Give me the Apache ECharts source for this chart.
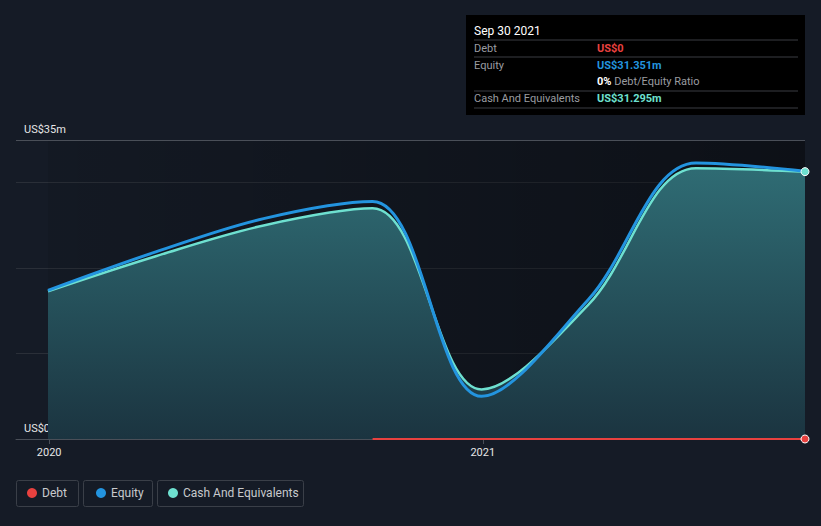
<!DOCTYPE html>
<html>
<head>
<meta charset="utf-8">
<script src="https://cdn.jsdelivr.net/npm/echarts@6/dist/echarts.min.js"></script>
<style>
html,body{margin:0;padding:0;background:#151b26;}
#c{width:821px;height:526px;}
</style>
</head>
<body>
<div id="c"></div>
<script>
// Data (US$ millions)
const dates = ['2019-12-31','2020-03-31','2020-06-30','2020-09-30','2020-12-31','2021-03-31','2021-06-30','2021-09-30'];
const equity = [17.4, 21.9, 25.8, 27.8, 5.0, 16.3, 32.3, 31.351];
const cash = [17.3, 21.4, 25.0, 27.0, 5.8, 15.7, 31.7, 31.295];
const debtDates = ['2020-09-30','2020-12-31','2021-03-31','2021-06-30','2021-09-30'];
const debt = [0, 0, 0, 0, 0];
const xTickLabels = ['2020-01-01','2021-01-01'];
const yTickLabels = [0, 35];

const tipRows = [
  {label:'Debt', value:'US$0', color:'#e8413f'},
  {label:'Equity', value:'US$31.351m', color:'#2394df'},
  {label:'', value:'0%', extra:' Debt/Equity Ratio', color:'#ffffff'},
  {label:'Cash And Equivalents', value:'US$31.295m', color:'#6ee0d0'}
];

const chart = echarts.init(document.getElementById('c'), null, {renderer:'svg'});
const FONT = 'Roboto, "Noto Sans", sans-serif';

const ts = s => new Date(s + 'T00:00:00Z').getTime();

const graphics = [];
// tooltip box
graphics.push({type:'rect', shape:{x:466,y:15,width:339,height:100}, style:{fill:'#000000'}, z:100});
graphics.push({type:'text', x:474, y:31, style:{text:'Sep 30 2021', fill:'#ffffff', font:'12px ' + FONT, verticalAlign:'middle'}, z:101});
const lineYs = [40, 57, 91, 108];
lineYs.forEach(y => graphics.push({type:'line', shape:{x1:474,y1:y,x2:798,y2:y}, style:{stroke:'#3a3d42', lineWidth:1}, z:101}));
const rowYs = [48, 65, 81, 98];
tipRows.forEach((r, i) => {
  if (r.label) graphics.push({type:'text', x:474, y:rowYs[i], style:{text:r.label, fill:'#9a9ca0', font:'11px ' + FONT, verticalAlign:'middle'}, z:101});
  if (r.extra) {
    graphics.push({type:'text', x:597, y:rowYs[i], style:{
      text:'{a|' + r.value + '}{b|' + r.extra + '}', verticalAlign:'middle',
      rich:{a:{fill:'#ffffff', fontWeight:'bold', fontSize:11, fontFamily:FONT}, b:{fill:'#9a9ca0', fontSize:11, fontFamily:FONT}}
    }, z:101});
  } else {
    graphics.push({type:'text', x:597, y:rowYs[i], style:{text:r.value, fill:r.color, font:'bold 11px ' + FONT, verticalAlign:'middle'}, z:101});
  }
});
// legend boxes
const boxes = [[16,62],[83,69],[157,146]];
boxes.forEach(b => graphics.push({type:'rect', shape:{x:b[0]+0.5,y:480.5,width:b[1],height:26,r:2}, style:{fill:'none', stroke:'#3a3f48', lineWidth:1}, z:1}));

const legendCommon = {icon:'circle', itemWidth:10, itemHeight:10, top:487, padding:0, textStyle:{color:'#c8cacd', fontSize:12, fontFamily:FONT}, selectedMode:false};

chart.setOption({
  backgroundColor:'#151b26',
  animation:false,
  grid:{left:16, right:16, top:140, bottom:87, containLabel:false},
  legend:[
    Object.assign({data:['Debt'], left:27}, legendCommon),
    Object.assign({data:['Equity'], left:96}, legendCommon),
    Object.assign({data:['Cash And Equivalents'], left:168}, legendCommon)
  ],
  xAxis:{
    type:'value',
    min: ts('2019-12-04'),
    max: ts('2021-09-30'),
    axisLine:{show:true, lineStyle:{color:'#4a4f58', width:1}},
    axisTick:{show:true, customValues: xTickLabels.map(ts), length:5, lineStyle:{color:'#4a4f58'}},
    axisLabel:{customValues: xTickLabels.map(ts), formatter: v => String(new Date(v).getUTCFullYear()), color:'#e6e6e6', fontSize:11, fontFamily:FONT, margin:8},
    splitLine:{show:false}
  },
  yAxis:{
    type:'value', min:0, max:35, interval:10,
    axisLine:{show:false}, axisTick:{show:false},
    axisLabel:{customValues:yTickLabels, inside:true, formatter: v => v === 0 ? 'US$0' : 'US$' + v + 'm', color:'#e6e6e6', fontSize:11, fontFamily:FONT, verticalAlign:'bottom', margin:8, padding:[0,0,5,0]},
    splitLine:{show:true, lineStyle:{color:'#2a2f38', width:1}}
  },
  graphic: graphics,
  series:[
    {
      name:'Cash And Equivalents', type:'line', smooth:0.35, showSymbol:false, z:2,
      data: dates.map((d,i)=>[ts(d), cash[i]]),
      lineStyle:{color:'#6ee0d0', width:2.5},
      itemStyle:{color:'#6ee0d0'},
      areaStyle:{color:{type:'linear', x:0, y:0, x2:0, y2:1, colorStops:[{offset:0,color:'#2f6c74'},{offset:1,color:'#1b3440'}]}, opacity:1},
      markArea:{silent:true, itemStyle:{color:{type:'linear', x:0, y:0, x2:1, y2:0, colorStops:[{offset:0,color:'rgba(0,0,0,0.08)'},{offset:1,color:'rgba(0,0,0,0.4)'}]}},
        data:[[{xAxis: ts(dates[0]), yAxis:0},{xAxis: ts(dates[dates.length-1]), yAxis:35}]]},
      markLine:{silent:true, symbol:'none', label:{show:false}, lineStyle:{color:'#4a4f58', type:'solid', width:1}, data:[{yAxis:35}]},
      markPoint:{symbol:'circle', symbolSize:8, label:{show:false}, itemStyle:{color:'#6ee0d0', borderColor:'#ffffff', borderWidth:1},
        data:[{coord:[ts(dates[dates.length-1]), cash[cash.length-1]]}]}
    },
    {
      name:'Equity', type:'line', smooth:0.35, showSymbol:false, z:1,
      data: dates.map((d,i)=>[ts(d), equity[i]]),
      lineStyle:{color:'#2394df', width:3},
      itemStyle:{color:'#2394df'}
    },
    {
      name:'Debt', type:'line', showSymbol:false, z:4,
      data: debtDates.map((d,i)=>[ts(d), debt[i]]),
      lineStyle:{color:'#e8413f', width:2},
      itemStyle:{color:'#e8413f'},
      markPoint:{symbol:'circle', symbolSize:8, label:{show:false}, itemStyle:{color:'#e8413f', borderColor:'#ffffff', borderWidth:1},
        data:[{coord:[ts(debtDates[debtDates.length-1]), 0]}]}
    }
  ]
});
// draw equity above the cash area but below the cash line: reorder via zlevel-free approach
chart.setOption({series:[{id:undefined},{z:3},{}]});
</script>
</body>
</html>
